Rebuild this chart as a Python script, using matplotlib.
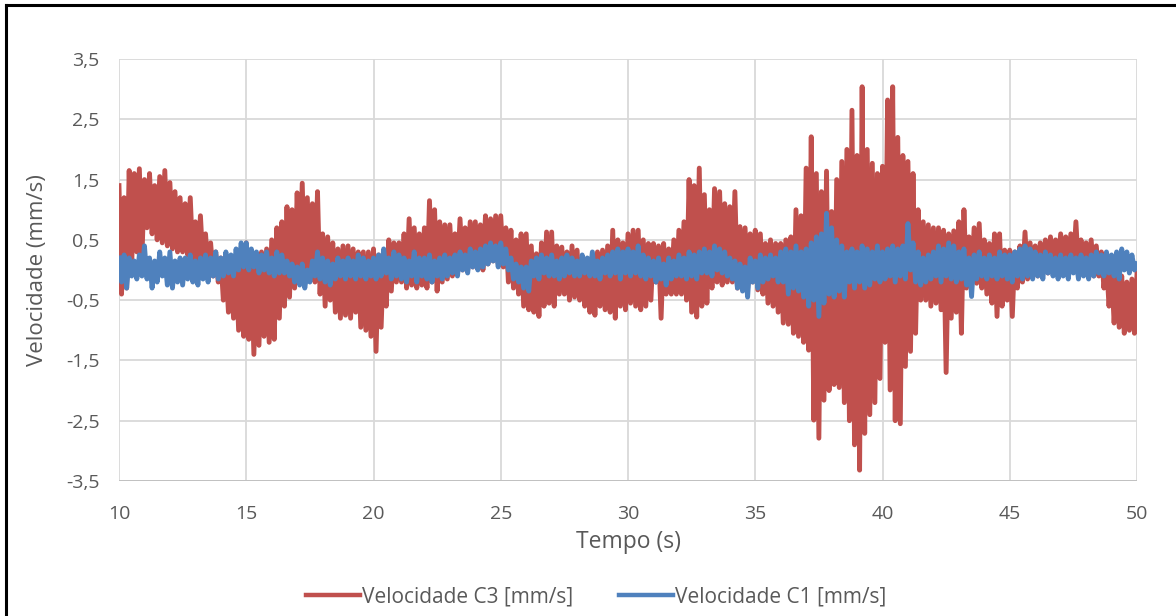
import matplotlib.pyplot as plt
import numpy as np
from matplotlib.lines import Line2D

# samples every 0.1 s, from 10.0 to 50.0 s (one row = one second)
t_start = 10.0
t_step = 0.1

vel_c3 = [
    1.4, -0.4, 1.2, -0.3, 1.65, 0.1, 1.6, 0.3, 1.68, 0.2,
    1.5, 0.7, 1.6, 0.6, 1.4, 0.5, 1.55, 0.45, 1.65, 0.4,
    1.45, 0.35, 1.3, 0.3, 1.2, 0.3, 1.1, 0.25, 1.2, 0.2,
    0.8, 0.15, 0.9, 0.1, 0.6, 0.0, 0.45, -0.1, 0.3, -0.2,
    0.2, -0.5, 0.1, -0.7, 0.05, -0.8, 0.1, -1.0, 0.2, -1.1,
    0.45, -1.15, 0.1, -1.4, 0.2, -1.25, 0.3, -1.1, 0.35, -1.2,
    0.5, -1.15, 0.7, -0.8, 0.8, -0.6, 1.05, -0.45, 1.0, -0.3,
    1.28, -0.1, 1.44, -0.2, 1.2, -0.15, 1.1, -0.2, 1.3, -0.4,
    0.6, -0.6, 0.55, -0.5, 0.45, -0.7, 0.35, -0.8, 0.4, -0.75,
    0.4, -0.8, 0.35, -0.7, 0.3, -0.95, 0.3, -1.0, 0.3, -1.1,
    0.35, -1.35, 0.25, -0.95, 0.3, -0.6, 0.5, -0.35, 0.45, -0.2,
    0.45, -0.2, 0.6, -0.3, 0.85, -0.25, 0.7, -0.3, 0.6, -0.25,
    0.7, -0.3, 1.15, -0.2, 1.0, -0.35, 0.8, -0.2, 0.75, -0.15,
    0.75, -0.1, 0.6, -0.05, 0.85, 0.0, 0.7, 0.0, 0.8, 0.05,
    0.8, 0.05, 0.75, 0.0, 0.9, 0.1, 0.85, 0.15, 0.9, 0.1,
    0.9, 0.05, 0.7, -0.2, 0.66, -0.3, 0.5, -0.4, 0.6, -0.6,
    0.6, -0.66, 0.4, -0.7, 0.27, -0.77, 0.45, -0.6, 0.63, -0.55,
    0.63, -0.6, 0.4, -0.4, 0.38, -0.4, 0.3, -0.5, 0.4, -0.45,
    0.33, -0.5, 0.2, -0.6, 0.1, -0.7, 0.2, -0.75, 0.3, -0.6,
    0.33, -0.66, 0.4, -0.7, 0.66, -0.8, 0.5, -0.6, 0.45, -0.66,
    0.6, -0.55, 0.66, -0.6, 0.66, -0.66, 0.5, -0.6, 0.44, -0.5,
    0.44, -0.2, 0.4, -0.8, 0.44, -0.4, 0.35, -0.4, 0.5, -0.4,
    0.66, -0.4, 0.8, -0.5, 1.5, -0.7, 1.4, -0.78, 1.69, -0.6,
    1.25, -0.55, 1.0, -0.3, 1.35, -0.2, 1.3, -0.25, 1.1, -0.2,
    1.05, -0.2, 1.3, -0.3, 0.72, -0.22, 0.7, -0.3, 0.6, -0.2,
    0.66, -0.33, 0.6, -0.4, 0.44, -0.55, 0.5, -0.6, 0.44, -0.7,
    0.44, -0.88, 0.5, -0.9, 0.55, -1.05, 1.0, -1.1, 0.9, -1.2,
    1.69, -1.33, 2.21, -2.49, 1.6, -2.79, 1.3, -2.16, 1.64, -2.0,
    0.97, -1.9, 1.5, -1.95, 1.8, -2.2, 2.0, -2.5, 2.65, -2.9,
    1.9, -3.32, 3.04, -2.71, 2.0, -2.4, 1.77, -2.2, 1.6, -1.8,
    1.72, -1.2, 2.82, -1.99, 3.04, -2.5, 2.2, -2.55, 1.9, -1.6,
    1.8, -1.35, 1.6, -1.05, 1.0, -0.5, 0.8, -0.5, 0.75, -0.6,
    0.7, -0.55, 0.7, -0.66, 0.66, -1.7, 0.6, -0.8, 0.65, -0.7,
    0.8, -1.05, 1.0, -0.3, 0.55, -0.25, 0.7, -0.22, 0.77, -0.3,
    0.5, -0.4, 0.44, -0.55, 0.6, -0.77, 0.6, -0.6, 0.33, -0.5,
    0.33, -0.77, 0.3, -0.3, 0.4, -0.2, 0.63, -0.15, 0.45, -0.1,
    0.4, -0.1, 0.45, -0.05, 0.5, -0.05, 0.55, 0.0, 0.5, 0.05,
    0.6, 0.05, 0.55, 0.0, 0.6, 0.05, 0.8, 0.0, 0.5, 0.05,
    0.45, -0.05, 0.5, -0.1, 0.4, -0.1, 0.3, -0.3, 0.15, -0.6,
    0.05, -0.88, -0.1, -0.95, -0.1, -1.05, -0.2, -1.0, -0.15, -1.05,
    -0.05,
]

vel_c1 = [
    0.2, -0.2, 0.25, -0.3, 0.2, -0.1, 0.15, -0.15, 0.25, -0.1,
    0.4, -0.15, 0.2, -0.3, 0.15, -0.2, 0.3, -0.1, 0.2, -0.25,
    0.3, -0.3, 0.15, -0.2, 0.2, -0.25, 0.2, -0.15, 0.25, -0.2,
    0.15, -0.25, 0.2, -0.15, 0.25, -0.2, 0.2, -0.1, 0.3, -0.15,
    0.2, -0.1, 0.3, -0.05, 0.25, -0.1, 0.35, 0.0, 0.45, 0.05,
    0.45, 0.0, 0.35, 0.05, 0.3, -0.05, 0.25, 0.0, 0.3, -0.05,
    0.2, -0.1, 0.3, -0.05, 0.25, -0.05, 0.15, -0.1, 0.1, -0.2,
    0.05, -0.25, 0.1, -0.3, 0.0, -0.2, 0.15, -0.1, 0.3, -0.15,
    0.2, -0.2, 0.15, -0.25, 0.1, -0.15, 0.2, -0.1, 0.15, -0.15,
    0.2, -0.1, 0.15, -0.15, 0.25, -0.1, 0.2, -0.15, 0.15, -0.1,
    0.2, -0.15, 0.25, -0.1, 0.35, -0.05, 0.2, -0.15, 0.3, -0.1,
    0.25, -0.15, 0.2, -0.2, 0.15, -0.1, 0.3, -0.2, 0.2, -0.1,
    0.2, -0.15, 0.25, -0.2, 0.15, -0.1, 0.2, -0.15, 0.25, -0.1,
    0.2, -0.05, 0.25, -0.1, 0.3, 0.0, 0.25, -0.05, 0.35, 0.05,
    0.3, 0.0, 0.35, 0.05, 0.4, 0.1, 0.45, 0.15, 0.4, 0.05,
    0.45, 0.1, 0.35, 0.0, 0.2, -0.15, 0.1, -0.2, 0.05, -0.3,
    0.05, -0.35, 0.15, -0.1, 0.2, -0.15, 0.25, -0.05, 0.2, -0.1,
    0.25, -0.1, 0.15, -0.15, 0.2, -0.1, 0.25, -0.05, 0.2, -0.1,
    0.15, -0.1, 0.25, -0.05, 0.2, -0.1, 0.3, -0.1, 0.15, -0.15,
    0.2, -0.05, 0.25, -0.1, 0.3, -0.05, 0.35, -0.15, 0.3, -0.05,
    0.35, -0.1, 0.3, -0.05, 0.4, -0.1, 0.25, -0.15, 0.2, -0.1,
    0.15, -0.2, 0.2, -0.15, 0.1, -0.25, 0.2, -0.15, 0.15, -0.1,
    0.25, -0.1, 0.2, -0.15, 0.3, -0.1, 0.25, -0.15, 0.3, -0.05,
    0.35, -0.05, 0.3, -0.1, 0.4, 0.0, 0.35, -0.05, 0.3, -0.1,
    0.2, -0.15, 0.15, -0.3, 0.1, -0.35, 0.05, -0.45, 0.2, -0.2,
    0.15, -0.3, 0.25, -0.2, 0.2, -0.15, 0.25, -0.1, 0.2, -0.2,
    0.3, -0.2, 0.35, -0.4, 0.3, -0.3, 0.4, -0.35, 0.3, -0.45,
    0.35, -0.6, 0.45, -0.5, 0.55, -0.77, 0.6, -0.55, 0.94, -0.4,
    0.7, -0.45, 0.5, -0.35, 0.4, -0.45, 0.3, -0.2, 0.35, -0.3,
    0.3, -0.2, 0.4, -0.3, 0.35, -0.25, 0.3, -0.15, 0.4, -0.2,
    0.3, -0.15, 0.35, -0.1, 0.4, -0.2, 0.35, -0.1, 0.4, -0.15,
    0.77, 0.0, 0.45, -0.2, 0.3, -0.25, 0.2, -0.2, 0.25, -0.15,
    0.3, -0.1, 0.4, -0.2, 0.35, -0.1, 0.45, -0.15, 0.4, -0.2,
    0.3, -0.15, 0.35, -0.25, 0.2, -0.44, 0.25, -0.15, 0.3, -0.1,
    0.2, -0.15, 0.25, -0.1, 0.2, -0.15, 0.3, -0.1, 0.25, -0.15,
    0.25, -0.2, 0.3, -0.1, 0.35, -0.15, 0.4, -0.1, 0.35, -0.15,
    0.3, -0.1, 0.25, -0.15, 0.3, -0.05, 0.25, -0.1, 0.2, -0.15,
    0.25, -0.1, 0.2, -0.15, 0.25, -0.05, 0.2, -0.15, 0.25, -0.1,
    0.2, -0.15, 0.25, -0.1, 0.3, -0.05, 0.25, -0.1, 0.3, -0.05,
    0.25, -0.1, 0.3, -0.15, 0.35, 0.0, 0.3, -0.05, 0.25, 0.0,
    0.1,
]

x_ticks = [10, 15, 20, 25, 30, 35, 40, 45, 50]
y_ticks = [-3.5, -2.5, -1.5, -0.5, 0.5, 1.5, 2.5, 3.5]

RED = "#C0504D"
BLUE = "#4F81BD"
GRAY_TXT = "#595959"

plt.rcParams["font.family"] = ["Open Sans", "DejaVu Sans"]

t = t_start + t_step * np.arange(len(vel_c3))

fig = plt.figure(figsize=(11.76, 6.16), dpi=100)
ax = fig.add_axes([119 / 1176, 1 - 481 / 616, (1137 - 119) / 1176, (481 - 59) / 616])

ax.plot(t, vel_c3, color=RED, lw=3.5, solid_joinstyle="round", label="Velocidade C3 [mm/s]", zorder=3)
ax.plot(t, vel_c1, color=BLUE, lw=3.5, solid_joinstyle="round", label="Velocidade C1 [mm/s]", zorder=4)

ax.set_xlim(10, 50)
ax.set_ylim(-3.5, 3.5)
ax.set_xticks(x_ticks)
ax.set_yticks(y_ticks)
ax.set_xticklabels([str(v) for v in x_ticks])
ax.set_yticklabels([f"{v:.1f}".replace(".", ",") for v in y_ticks])
ax.grid(True, color="#D9D9D9", lw=1.3)
ax.set_axisbelow(True)
for s in ax.spines.values():
    s.set_visible(False)
ax.axhline(-3.5, color="#BFBFBF", lw=1.3, zorder=2)
ax.tick_params(length=0, labelsize=14, labelcolor=GRAY_TXT)
ax.tick_params(axis="y", pad=14)
ax.tick_params(axis="x", pad=17)

ax.set_xlabel("Tempo (s)", fontsize=16.5, color=GRAY_TXT, labelpad=5)
ax.set_ylabel("Velocidade (mm/s)", fontsize=16, color=GRAY_TXT, labelpad=13)

handles = [Line2D([], [], color=RED, lw=3.2), Line2D([], [], color=BLUE, lw=3.2)]
fig.legend(handles, ["Velocidade C3 [mm/s]", "Velocidade C1 [mm/s]"],
           loc="center", bbox_to_anchor=(0.507, 0.031), ncol=2, frameon=False,
           fontsize=15, labelcolor=GRAY_TXT, handlelength=2.6, handletextpad=0.1,
           columnspacing=2.2)

# outer chart border (top and left edges visible)
fig.add_artist(Line2D([6 / 1176, 6 / 1176], [0, 1 - 5 / 616], color="black", lw=2.2, transform=fig.transFigure))
fig.add_artist(Line2D([6 / 1176, 1], [1 - 5 / 616, 1 - 5 / 616], color="black", lw=2.2, transform=fig.transFigure))

fig.savefig("out.png", dpi=100)
